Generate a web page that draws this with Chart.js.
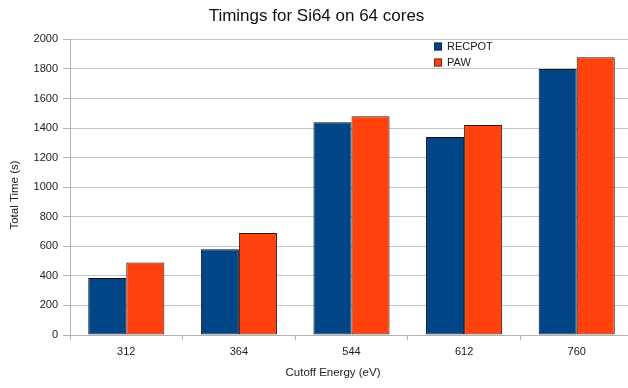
<!DOCTYPE html>
<html>
<head>
<meta charset="utf-8">
<script src="https://cdn.jsdelivr.net/npm/chart.js@4/dist/chart.umd.min.js"></script>
<style>
  html, body { margin: 0; padding: 0; background: #fff; overflow: hidden; width: 628px; height: 388px; }
  canvas { display: block; }
</style>
</head>
<body>
<canvas id="c" width="633" height="388"></canvas>
<script>
// Cutoff energies (eV) on the category axis
const cutoffs = ['312', '364', '544', '612', '760'];
// Total wall time (s) for each pseudopotential type
const recpotTimes = [385, 580, 1440, 1340, 1800];
const pawTimes = [490, 690, 1480, 1420, 1880];
const seriesNames = ['RECPOT', 'PAW'];
const yTicks = [0, 200, 400, 600, 800, 1000, 1200, 1400, 1600, 1800, 2000];
const xTitle = 'Cutoff Energy (eV)';
const yTitle = 'Total Time (s)';

const FONT = 'Liberation Sans, Arial, sans-serif';

// Small legend inside the plot (upper right) and the two axis titles
const annotations = {
  id: 'annotations',
  afterDraw(chart) {
    const ctx = chart.ctx;
    ctx.save();
    ctx.font = '11px ' + FONT;
    ctx.textBaseline = 'middle';
    chart.data.datasets.forEach((ds, i) => {
      const y = 46.5 + i * 16;
      ctx.fillStyle = ds.backgroundColor;
      ctx.fillRect(434, y - 4, 8, 8);
      ctx.strokeStyle = 'rgba(20,20,40,0.6)';
      ctx.lineWidth = 1;
      ctx.strokeRect(434.5, y - 3.5, 7, 7);
      ctx.fillStyle = '#1a1a1a';
      ctx.textAlign = 'left';
      ctx.fillText(ds.label, 447, y);
    });

    ctx.fillStyle = '#222';
    ctx.textAlign = 'center';
    ctx.font = '11.5px ' + FONT;
    ctx.fillText(xTitle, 333, 373);
    ctx.translate(15, 195);
    ctx.rotate(-Math.PI / 2);
    ctx.fillText(yTitle, 0, 0);
    ctx.restore();
  }
};

new Chart(document.getElementById('c'), {
  type: 'bar',
  data: {
    labels: cutoffs,
    datasets: [
      {
        label: seriesNames[0],
        data: recpotTimes,
        backgroundColor: '#004586',
        borderColor: '#0d0f1c',
        borderWidth: 1,
        borderSkipped: false
      },
      {
        label: seriesNames[1],
        data: pawTimes,
        backgroundColor: '#ff420e',
        borderColor: '#3a1208',
        borderWidth: 1,
        borderSkipped: false
      }
    ]
  },
  options: {
    responsive: false,
    animation: false,
    events: [],
    layout: { padding: 0 },
    datasets: {
      bar: { categoryPercentage: 0.676, barPercentage: 1.0 }
    },
    plugins: {
      legend: { display: false },
      tooltip: { enabled: false },
      title: {
        display: true,
        text: 'Timings for Si64 on 64 cores',
        color: '#111',
        font: { family: FONT, size: 17, weight: 'normal' },
        padding: { top: 6, bottom: 13 }
      }
    },
    scales: {
      x: {
        grid: {
          offset: true,
          drawOnChartArea: false,
          drawTicks: true,
          tickLength: 5,
          tickColor: '#b3b3b3'
        },
        border: { color: '#b3b3b3', width: 1 },
        ticks: {
          color: '#222',
          padding: 5,
          font: { family: FONT, size: 11 }
        },
        afterFit(scale) { scale.height = 53; }
      },
      y: {
        min: 0,
        max: 2000,
        afterBuildTicks(scale) { scale.ticks = yTicks.map(v => ({ value: v })); },
        grid: {
          color: '#c6c6c6',
          lineWidth: 1,
          drawTicks: true,
          tickLength: 7,
          tickColor: '#b3b3b3'
        },
        border: { color: '#b3b3b3', width: 1 },
        ticks: {
          color: '#222',
          padding: 5,
          font: { family: FONT, size: 11 },
          callback: (v) => String(v)
        },
        afterFit(scale) { scale.width = 70; }
      }
    }
  },
  plugins: [annotations]
});
</script>
</body>
</html>
